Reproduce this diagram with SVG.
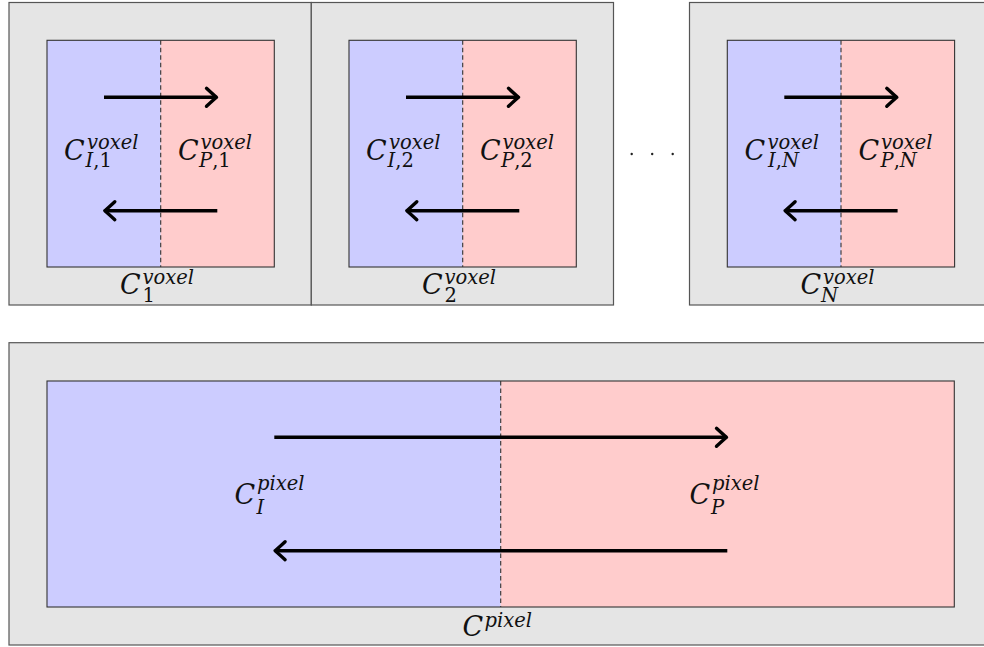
<svg xmlns="http://www.w3.org/2000/svg" width="984" height="647" viewBox="0 0 984 647">
<style>
.outer{fill:#e5e5e5;stroke:#555;stroke-width:1.2}
.inI{fill:#ccccff}
.inP{fill:#ffcccc}
.frame{fill:none;stroke:#333;stroke-width:1.1}
.dash{stroke:#333;stroke-width:1.1;stroke-dasharray:4.5 3;fill:none}
.arr{stroke:#000;stroke-width:3.6;fill:none;marker-end:url(#head)}
.lbl{font-family:'DejaVu Serif','Liberation Serif',serif;font-style:italic;fill:#111;font-size:27px}
.s{font-size:19.5px}
.b{font-size:19.5px}
.up{font-style:normal}
</style>
<defs>
<marker id="head" markerUnits="userSpaceOnUse" viewBox="-14 -12 18 24" refX="0" refY="0" markerWidth="18" markerHeight="24" orient="auto" overflow="visible">
<path d="M-10,-9 Q-3,-2.5 0,0 Q-3,2.5 -10,9" fill="none" stroke="#000" stroke-width="3.4" stroke-linecap="round" stroke-linejoin="round"/>
</marker>
</defs>
<rect x="0" y="0" width="984" height="647" fill="#fff"/>

<g id="voxel1">
<rect class="outer" x="9" y="2.5" width="302.3" height="302.5"/>
<rect class="inI" x="47" y="40.3" width="113.7" height="226.7"/>
<rect class="inP" x="160.7" y="40.3" width="113.6" height="226.7"/>
<rect class="frame" x="47" y="40.3" width="227.3" height="226.7"/>
<line class="dash" x1="160.7" y1="40.3" x2="160.7" y2="267"/>
<text class="lbl" x="64" y="160">C<tspan class="s" x="87" y="148.5">voxel</tspan><tspan class="b" x="85.5" y="166.5">I<tspan class="up">,1</tspan></tspan></text>
<text class="lbl" x="178" y="160">C<tspan class="s" x="200.5" y="148.5">voxel</tspan><tspan class="b" x="199" y="166.5">P<tspan class="up">,1</tspan></tspan></text>
<text class="lbl" x="120" y="293.5">C<tspan class="s" x="142.5" y="283.5">voxel</tspan><tspan class="b up" x="142.5" y="302">1</tspan></text>
</g>

<g id="voxel2">
<rect class="outer" x="311.3" y="2.5" width="302.2" height="302.5"/>
<rect class="inI" x="349" y="40.3" width="113.7" height="226.7"/>
<rect class="inP" x="462.7" y="40.3" width="113.6" height="226.7"/>
<rect class="frame" x="349" y="40.3" width="227.3" height="226.7"/>
<line class="dash" x1="462.7" y1="40.3" x2="462.7" y2="267"/>
<text class="lbl" x="366" y="160">C<tspan class="s" x="389" y="148.5">voxel</tspan><tspan class="b" x="387.5" y="166.5">I<tspan class="up">,2</tspan></tspan></text>
<text class="lbl" x="480" y="160">C<tspan class="s" x="502.5" y="148.5">voxel</tspan><tspan class="b" x="501" y="166.5">P<tspan class="up">,2</tspan></tspan></text>
<text class="lbl" x="422" y="293.5">C<tspan class="s" x="444.5" y="283.5">voxel</tspan><tspan class="b up" x="444.5" y="302">2</tspan></text>
</g>

<g id="ellipsis">
<circle cx="631.7" cy="154" r="1.2" fill="#222"/>
<circle cx="652.2" cy="154" r="1.2" fill="#222"/>
<circle cx="672.7" cy="154" r="1.2" fill="#222"/>
</g>

<g id="voxelN">
<rect class="outer" x="689.5" y="2.5" width="302.2" height="302.5"/>
<rect class="inI" x="727.3" y="40.3" width="113.7" height="226.7"/>
<rect class="inP" x="841" y="40.3" width="113.6" height="226.7"/>
<rect class="frame" x="727.3" y="40.3" width="227.3" height="226.7"/>
<line class="dash" x1="841" y1="40.3" x2="841" y2="267"/>
<text class="lbl" x="744.5" y="160">C<tspan class="s" x="767.5" y="148.5">voxel</tspan><tspan class="b" x="768" y="166.5">I<tspan class="up">,</tspan>N</tspan></text>
<text class="lbl" x="858.5" y="160">C<tspan class="s" x="881" y="148.5">voxel</tspan><tspan class="b" x="880.5" y="166.5">P<tspan class="up">,</tspan>N</tspan></text>
<text class="lbl" x="800.5" y="293.5">C<tspan class="s" x="823" y="283.5">voxel</tspan><tspan class="b" x="821" y="302">N</tspan></text>
</g>

<g id="pixel">
<rect class="outer" x="9" y="342.7" width="983" height="302.3"/>
<rect class="inI" x="47" y="381" width="453.7" height="226"/>
<rect class="inP" x="500.7" y="381" width="453.6" height="226"/>
<rect class="frame" x="47" y="381" width="907.3" height="226"/>
<line class="dash" x1="500.7" y1="381" x2="500.7" y2="607"/>
<text class="lbl" x="234.5" y="504">C<tspan class="s" x="257" y="490">pixel</tspan><tspan class="b" x="256.5" y="513.5">I</tspan></text>
<text class="lbl" x="689.5" y="504">C<tspan class="s" x="712" y="490">pixel</tspan><tspan class="b" x="711" y="513.5">P</tspan></text>
<text class="lbl" x="462.5" y="636">C<tspan class="s" x="484.5" y="626.5">pixel</tspan></text>
</g>

<g id="connectors">
<line class="arr" x1="104" y1="97.3" x2="216.5" y2="97.3"/>
<line class="arr" x1="217.3" y1="210.7" x2="104.8" y2="210.7"/>
<line class="arr" x1="406" y1="97.3" x2="518.5" y2="97.3"/>
<line class="arr" x1="519.3" y1="210.7" x2="406.8" y2="210.7"/>
<line class="arr" x1="784.3" y1="97.3" x2="896.8" y2="97.3"/>
<line class="arr" x1="897.6" y1="210.7" x2="785.1" y2="210.7"/>
<line class="arr" x1="274.3" y1="437.3" x2="726.5" y2="437.3"/>
<line class="arr" x1="727.3" y1="550.7" x2="275.1" y2="550.7"/>
</g>
</svg>
